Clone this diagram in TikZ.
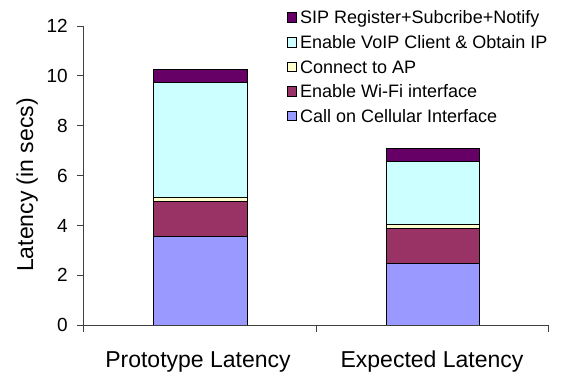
\documentclass[tikz,border=0pt]{standalone}
\usepackage{fontspec}
\setmainfont{Liberation Sans}
\definecolor{cblue}{HTML}{9999FF}
\definecolor{cmaroon}{HTML}{993366}
\definecolor{cyel}{HTML}{FFFFCC}
\definecolor{ccyan}{HTML}{CCFFFF}
\definecolor{cpurp}{HTML}{660066}
\definecolor{axisgray}{HTML}{404040}
\begin{document}
\begin{tikzpicture}[x=1pt,y=1pt,
  seg/.style={draw=black, line width=0.9pt},
  axisline/.style={draw=axisgray, line width=0.9pt},
  ticklbl/.style={anchor=base east, inner sep=0pt, font=\fontsize{19}{21}\selectfont},
  catlbl/.style={anchor=base, inner sep=0pt, font=\fontsize{23}{25}\selectfont},
  leglbl/.style={anchor=base west, inner sep=0pt, font=\fontsize{18}{20}\selectfont},
  legbox/.style={draw=black, line width=0.6pt, minimum size=9.5pt, inner sep=0pt}]
\useasboundingbox (0,0) rectangle (567,376);
\fill[white] (0,0) rectangle (567,376);
% value -> y : 51 + 24.92*v
\def\yv#1{51+24.92*#1}
% bar 1 (Prototype)
\filldraw[seg, fill=cblue]   (153,{\yv{0}})    rectangle (247,{\yv{3.57}});
\filldraw[seg, fill=cmaroon] (153,{\yv{3.57}}) rectangle (247,{\yv{4.95}});
\filldraw[seg, fill=cyel]    (153,{\yv{4.95}}) rectangle (247,{\yv{5.12}});
\filldraw[seg, fill=ccyan]   (153,{\yv{5.12}}) rectangle (247,{\yv{9.74}});
\filldraw[seg, fill=cpurp]   (153,{\yv{9.74}}) rectangle (247,{\yv{10.27}});
% bar 2 (Expected)
\filldraw[seg, fill=cblue]   (386,{\yv{0}})    rectangle (479,{\yv{2.49}});
\filldraw[seg, fill=cmaroon] (386,{\yv{2.49}}) rectangle (479,{\yv{3.86}});
\filldraw[seg, fill=cyel]    (386,{\yv{3.86}}) rectangle (479,{\yv{4.04}});
\filldraw[seg, fill=ccyan]   (386,{\yv{4.04}}) rectangle (479,{\yv{6.58}});
\filldraw[seg, fill=cpurp]   (386,{\yv{6.58}}) rectangle (479,{\yv{7.09}});
% axes
\draw[axisline] (83,44) -- (83,{\yv{12}});
\draw[axisline] (83,51) -- (548,51);
\draw[axisline] (316,51) -- (316,44);
\draw[axisline] (548,51) -- (548,44);
\foreach \v in {0,2,...,12} {
  \draw[axisline] (77,{\yv{\v}}) -- (83,{\yv{\v}});
  \node[ticklbl] (t\v) at (68,{\yv{\v}-6.8}) {\v};
}
% axis labels
\node[rotate=90, anchor=base, inner sep=0pt, font=\fontsize{23}{25}\selectfont] (ylab) at (33,191) {Latency (in secs)};
\node[catlbl] (c1) at (198,9) {Prototype Latency};
\node[catlbl] (c2) at (432,9) {Expected Latency};
% legend
\node[legbox, fill=cpurp]   (b1) at (292,{376-17.5}) {};
\node[legbox, fill=ccyan]   (b2) at (292,{376-42.1}) {};
\node[legbox, fill=cyel]    (b3) at (292,{376-66.7}) {};
\node[legbox, fill=cmaroon] (b4) at (292,{376-91.3}) {};
\node[legbox, fill=cblue]   (b5) at (292,{376-115.9}) {};
\node[leglbl] (l1) at (300,{376-17.5-6.4}) {SIP Register+Subcribe+Notify};
\node[leglbl] (l2) at (300,{376-42.1-6.4}) {Enable VoIP Client \& Obtain IP};
\node[leglbl] (l3) at (300,{376-66.7-6.4}) {Connect to AP};
\node[leglbl] (l4) at (300,{376-91.3-6.4}) {Enable Wi-Fi interface};
\node[leglbl] (l5) at (300,{376-115.9-6.4}) {Call on Cellular Interface};
\end{tikzpicture}
\end{document}
